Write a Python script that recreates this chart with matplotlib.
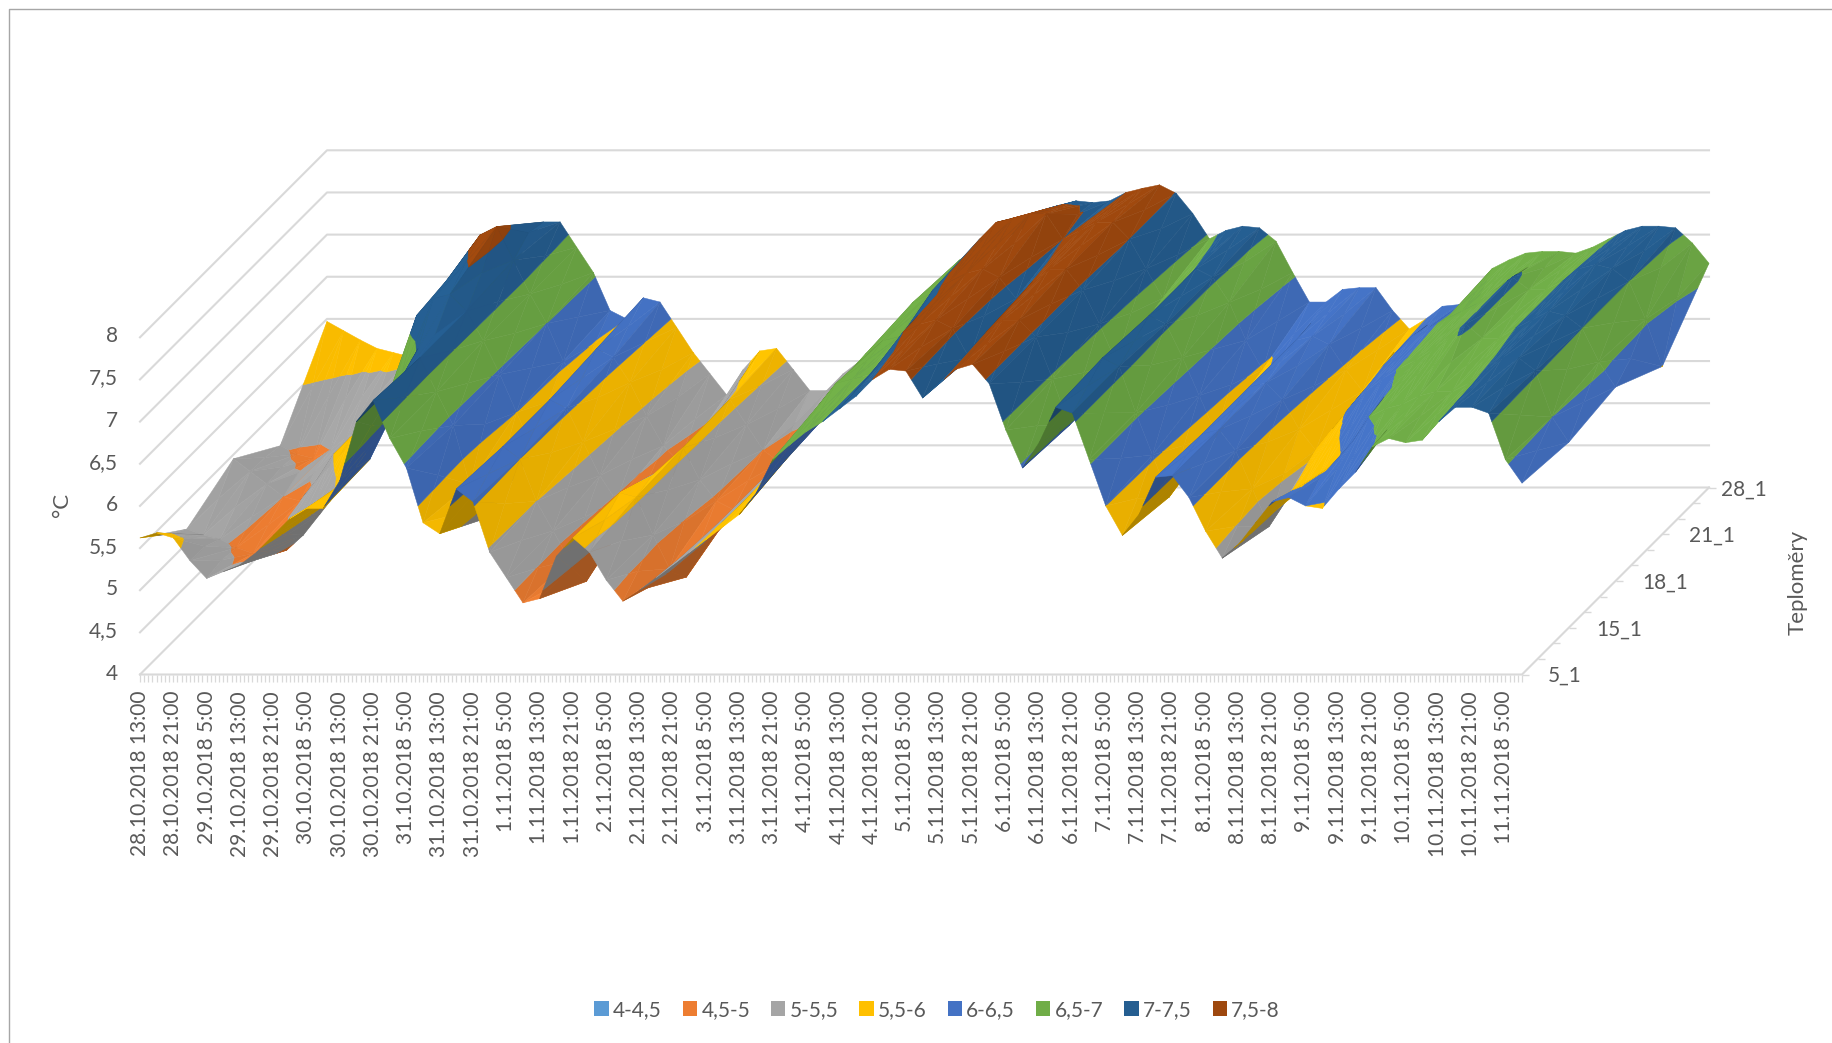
import matplotlib
matplotlib.use("Agg")
import matplotlib.pyplot as plt
import numpy as np
from matplotlib.collections import PolyCollection
from matplotlib.patches import Patch
from matplotlib.colors import to_rgb

plt.rcParams['font.family'] = ['Lato', 'DejaVu Sans']

time_labels = ["28.10.2018 13:00","28.10.2018 21:00","29.10.2018 5:00","29.10.2018 13:00","29.10.2018 21:00",
 "30.10.2018 5:00","30.10.2018 13:00","30.10.2018 21:00","31.10.2018 5:00","31.10.2018 13:00","31.10.2018 21:00",
 "1.11.2018 5:00","1.11.2018 13:00","1.11.2018 21:00","2.11.2018 5:00","2.11.2018 13:00","2.11.2018 21:00",
 "3.11.2018 5:00","3.11.2018 13:00","3.11.2018 21:00","4.11.2018 5:00","4.11.2018 13:00","4.11.2018 21:00",
 "5.11.2018 5:00","5.11.2018 13:00","5.11.2018 21:00","6.11.2018 5:00","6.11.2018 13:00","6.11.2018 21:00",
 "7.11.2018 5:00","7.11.2018 13:00","7.11.2018 21:00","8.11.2018 5:00","8.11.2018 13:00","8.11.2018 21:00",
 "9.11.2018 5:00","9.11.2018 13:00","9.11.2018 21:00","10.11.2018 5:00","10.11.2018 13:00","10.11.2018 21:00",
 "11.11.2018 5:00"]
value_labels = ["4","4,5","5","5,5","6","6,5","7","7,5","8"]
value_levels = [4,4.5,5,5.5,6,6.5,7,7.5,8]
band_labels = ["4-4,5","4,5-5","5-5,5","5,5-6","6-6,5","6,5-7","7-7,5","7,5-8"]
band_colors = ["#5B9BD5","#ED7D31","#A5A5A5","#FFC000","#4472C4","#70AD47","#255E91","#9E480E"]
depth_labels = ["5_1","15_1","18_1","21_1","28_1"]

# Temperature (°C) every 4 hours for thermometers from the front row to the back row
t_5_1 = [5.62,5.68,5.62,5.35,5.14,5.22,5.30,5.45,5.65,5.85,
         5.97,5.97,6.30,7.00,7.25,6.80,6.45,5.80,5.67,6.20,
         6.05,5.45,5.15,4.85,4.90,5.40,5.62,5.45,5.12,4.87,
         5.00,5.15,5.30,5.45,5.60,5.75,5.90,6.15,6.55,6.72,
         6.88,7.00,7.15,7.30,7.50,7.62,7.60,7.28,7.45,7.62,
         7.68,7.45,6.90,6.45,6.75,7.17,7.10,6.55,6.00,5.65,
         5.90,6.34,6.36,6.10,5.70,5.38,5.55,5.80,6.05,6.10,
         6.00,5.97,6.20,6.40,6.70,6.80,6.75,6.78,7.00,7.17,
         7.17,7.10,6.55,6.27]
t_15_1 = [5.17,5.10,5.05,4.95,4.88,4.88,4.92,5.10,5.35,5.60,
          5.80,6.00,6.40,7.00,7.20,6.80,6.40,5.70,5.30,6.15,
          6.00,5.50,5.15,4.80,4.55,5.10,5.60,5.55,5.10,4.70,
          4.60,5.00,5.25,5.40,5.60,5.80,6.00,6.25,6.65,6.90,
          6.95,7.00,7.20,7.50,7.60,7.65,7.55,7.20,7.50,7.65,
          7.65,7.45,6.95,6.40,6.60,7.20,7.10,6.55,6.05,5.55,
          5.85,6.30,6.35,6.10,5.65,5.20,5.50,5.65,5.80,5.95,
          6.20,6.50,6.60,6.65,6.75,6.80,6.80,6.90,7.05,7.20,
          7.20,7.05,6.50,6.20]
t_18_1 = [5.45,5.30,5.15,5.00,4.95,5.20,5.50,5.70,5.80,5.90,
          6.50,7.15,7.35,7.40,7.20,6.85,6.45,6.00,5.55,6.15,
          6.05,5.65,5.25,4.95,4.85,5.00,5.35,5.58,5.20,4.95,
          4.85,5.00,5.25,5.45,5.65,5.85,6.05,6.30,6.70,6.85,
          6.90,7.00,7.45,7.55,7.65,7.70,7.60,7.35,7.55,7.70,
          7.70,7.45,7.05,6.60,6.75,7.15,7.05,6.65,6.20,5.75,
          5.95,6.30,6.35,6.15,5.80,5.55,5.80,6.05,6.25,6.40,
          6.52,6.62,6.75,6.90,7.05,6.88,6.88,7.00,7.10,7.20,
          7.15,7.00,6.60,6.30]
t_21_1 = [5.05,4.95,4.90,5.00,5.15,5.25,5.35,5.45,5.60,5.85,
          6.60,7.20,7.55,7.65,7.25,6.85,6.50,6.05,5.80,6.20,
          6.10,5.80,5.40,5.05,4.85,4.95,5.35,5.60,5.30,5.00,
          4.85,5.05,5.30,5.50,5.70,5.90,6.10,6.35,6.75,6.85,
          6.95,7.05,7.50,7.70,7.75,7.80,7.80,7.50,7.60,7.70,
          7.70,7.50,7.15,6.80,6.95,7.15,7.05,6.75,6.30,5.95,
          6.05,6.30,6.35,6.25,5.95,5.70,5.95,6.15,6.35,6.45,
          6.55,6.65,6.75,6.90,7.05,6.90,6.90,7.00,7.15,7.20,
          7.15,7.00,6.55,5.99]
t_28_1 = [5.97,5.86,5.75,5.65,5.60,5.55,5.55,5.60,5.70,5.90,
          6.20,6.50,6.90,7.15,7.15,6.85,6.55,6.10,6.00,6.25,
          6.20,5.90,5.60,5.35,5.10,5.40,5.62,5.65,5.40,5.15,
          5.15,5.35,5.50,5.55,5.75,5.95,6.15,6.35,6.70,6.85,
          6.90,7.00,7.10,7.25,7.35,7.40,7.38,7.40,7.50,7.55,
          7.59,7.49,7.25,6.95,7.05,7.10,7.08,6.92,6.55,6.20,
          6.20,6.35,6.37,6.37,6.10,5.88,6.00,6.15,6.17,6.17,
          6.60,6.70,6.78,6.80,6.80,6.78,6.85,6.95,7.05,7.10,
          7.10,7.08,6.90,6.66]

Z = np.array([t_5_1, t_15_1, t_18_1, t_21_1, t_28_1])
nrow, ncol = Z.shape

# oblique projection of the Excel 3-D axes, in figure pixels
X0, Y0, WIDTH, DEPTH, PER_DEG = 140.0, 674.5, 1382.0, 187.0, 84.3
def proj(k, f, T):
    return (X0 + WIDTH * np.asarray(k) / (ncol - 1) + DEPTH * np.asarray(f),
            Y0 - DEPTH * np.asarray(f) - PER_DEG * (np.asarray(T) - 4.0))

def clip(poly, level, keep_above):
    out = []
    n = len(poly)
    for i in range(n):
        a, b = poly[i], poly[(i + 1) % n]
        ina = a[2] >= level if keep_above else a[2] <= level
        inb = b[2] >= level if keep_above else b[2] <= level
        if ina:
            out.append(a)
        if ina != inb:
            s = (level - a[2]) / (b[2] - a[2])
            out.append(tuple(a[i2] + s * (b[i2] - a[i2]) for i2 in range(3)))
    return out

fig = plt.figure(figsize=(18.32, 10.43), dpi=100)
ax = fig.add_axes([0, 0, 1, 1])
ax.set_xlim(0, 1832)
ax.set_ylim(1043, 0)
ax.axis("off")

GRID = "#D9D9D9"
# chart border
ax.plot([9, 9, 1832], [1043, 9, 9], color="#A6A6A6", lw=1.0, solid_capstyle="butt")
# walls and floor
for lev in value_levels:
    x, y = proj([0, 0, ncol - 1], [0, 1, 1], [lev, lev, lev])
    ax.plot(x, y, color=GRID, lw=1.5, zorder=1)
x, y = proj([0, ncol - 1, ncol - 1], [0, 0, 1], [4, 4, 4])
ax.plot(x, y, color=GRID, lw=1.5, zorder=1)
# ticks
hours = np.arange(0, 333)
tx, ty = proj(hours / 332 * (ncol - 1), 0 * hours, 4 + 0 * hours)
ax.vlines(tx, ty, ty + 7, color=GRID, lw=0.9, zorder=1)
dt = np.linspace(0, 1, 13)
tx, ty = proj(ncol - 1 + 0 * dt, dt, 4 + 0 * dt)
ax.hlines(ty, tx, tx + 7, color=GRID, lw=1.0, zorder=1)

# surface, painted from back to front
levels = np.arange(4.0, 8.01, 0.5)
light = np.array([-0.45, -0.25, 0.85])
light = light / np.linalg.norm(light)
polys, faces = [], []
for j in range(nrow - 2, -1, -1):
    for k in range(ncol - 1):
        f0, f1 = j / (nrow - 1), (j + 1) / (nrow - 1)
        a = (k, f0, Z[j, k]); b = (k + 1, f0, Z[j, k + 1])
        c = (k + 1, f1, Z[j + 1, k + 1]); d = (k, f1, Z[j + 1, k])
        m = (k + .5, (f0 + f1) / 2, (a[2] + b[2] + c[2] + d[2]) / 4)
        for tri in [(m, c, d), (m, d, a), (m, b, c), (m, a, b)]:
            p = np.array(tri)
            sx, sy = proj(p[:, 0], p[:, 1], p[:, 2])
            area = (sx[1] - sx[0]) * (sy[2] - sy[0]) - (sy[1] - sy[0]) * (sx[2] - sx[0])
            u = np.array([(p[1, 0] - p[0, 0]) * WIDTH / (ncol - 1), (p[1, 1] - p[0, 1]) * DEPTH * 1.4, (p[1, 2] - p[0, 2]) * PER_DEG])
            v = np.array([(p[2, 0] - p[0, 0]) * WIDTH / (ncol - 1), (p[2, 1] - p[0, 1]) * DEPTH * 1.4, (p[2, 2] - p[0, 2]) * PER_DEG])
            n = np.cross(u, v)
            n = n / np.linalg.norm(n)
            if n[2] < 0:
                n = -n
            bright = 0.91 + 0.12 * float(n @ light)
            if area > 0:
                bright = 0.68
            for b_i in range(len(levels) - 1):
                poly = clip(list(tri), levels[b_i], True)
                if len(poly) >= 3:
                    poly = clip(poly, levels[b_i + 1], False)
                if len(poly) < 3:
                    continue
                q = np.array(poly)
                qx, qy = proj(q[:, 0], q[:, 1], q[:, 2])
                polys.append(np.column_stack([qx, qy]))
                faces.append(tuple(min(1, ch * bright) for ch in to_rgb(band_colors[b_i])))
ax.add_collection(PolyCollection(polys, facecolors=faces, edgecolors=faces, linewidths=0.35, zorder=3))

# labels
TXT = "#595959"
FS = 15.0
for i, lab in enumerate(time_labels):
    ax.text(140 + 33.27 * i, 691, lab, rotation=90, ha="center", va="top", color=TXT, fontsize=FS)
for lev, lab in zip(value_levels, value_labels):
    _, yy = proj(0, 0, lev)
    ax.text(118, yy - 1, lab, ha="right", va="center", color=TXT, fontsize=FS)
for (xx, yy), lab in zip([(1548, 676), (1596, 630), (1642, 583), (1689, 536), (1721, 490)], depth_labels):
    ax.text(xx, yy, lab, ha="left", va="center", color=TXT, fontsize=FS)
ax.text(62, 505, "°C", rotation=90, ha="center", va="center", color=TXT, fontsize=FS + 1)
ax.text(1798, 582, "Teploměry", rotation=90, ha="center", va="center", color=TXT, fontsize=FS + 1)

handles = [Patch(facecolor=c, edgecolor="none", label=l) for c, l in zip(band_colors, band_labels)]
ax.legend(handles=handles, ncol=8, loc="center", bbox_to_anchor=(0.5115, 1 - 1010 / 1043),
          bbox_transform=fig.transFigure, frameon=False, fontsize=FS, labelcolor=TXT,
          handlelength=0.7, handleheight=0.7, handletextpad=0.2, columnspacing=1.0, borderpad=0)

fig.savefig("out.png", dpi=100, facecolor="white")
